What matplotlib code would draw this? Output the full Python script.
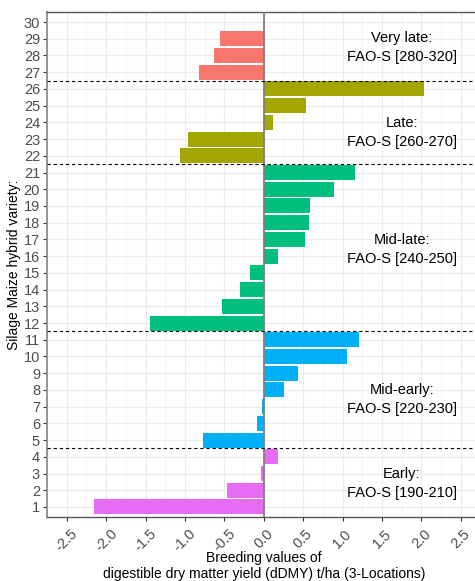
import matplotlib
matplotlib.use("Agg")
import matplotlib.pyplot as plt
from matplotlib.ticker import MultipleLocator, FixedLocator

plt.rcParams['font.family'] = ['Liberation Sans', 'DejaVu Sans']

varieties = list(range(1, 31))
values = [-2.16, -0.47, -0.04, 0.18, -0.77, -0.09, -0.02, 0.26, 0.44, 1.05,
          1.21, -1.445, -0.525, -0.296, -0.18, 0.18, 0.525, 0.575, 0.59, 0.885,
          1.16, -1.06, -0.96, 0.12, 0.54, 2.03, -0.82, -0.63, -0.56, 0.0]
groups = ["Early"] * 4 + ["Mid-early"] * 7 + ["Mid-late"] * 10 + ["Late"] * 5 + ["Very late"] * 4
group_colors = {"Early": "#E76BF3", "Mid-early": "#00B0F6", "Mid-late": "#00BF7D",
                "Late": "#A3A500", "Very late": "#F8766D"}
boundaries = [4.5, 11.5, 21.5, 26.5]
labels = ["Very late:\nFAO-S [280-320]", "Late:\nFAO-S [260-270]", "Mid-late:\nFAO-S [240-250]",
          "Mid-early:\nFAO-S [220-230]", "Early:\nFAO-S [190-210]"]
label_y = [28.45, 23.4, 16.4, 7.4, 2.4]
label_x = 1.75
xticks = [-2.5, -2.0, -1.5, -1.0, -0.5, 0.0, 0.5, 1.0, 1.5, 2.0, 2.5]

W, H = 475, 581
fig = plt.figure(figsize=(W / 100, H / 100), dpi=100)
ax = fig.add_axes([47 / W, 64 / H, (480.5 - 47) / W, (517 - 12) / H])

ax.set_xlim(-2.75, 2.75)
ax.set_ylim(0.4, 30.6)

ax.xaxis.set_major_locator(FixedLocator(xticks))
ax.xaxis.set_minor_locator(MultipleLocator(0.25))
ax.yaxis.set_major_locator(FixedLocator(varieties))
ax.grid(which='major', color='#EBEBEB', linewidth=0.9, zorder=0)
ax.grid(which='minor', axis='x', color='#F2F2F2', linewidth=0.5, zorder=0)
ax.set_axisbelow(True)

cols = [group_colors[g] for g in groups]
ax.barh(varieties, values, height=0.9, color=cols, edgecolor='none', zorder=2)

ax.axvline(0, color='#7F7F7F', linewidth=1.3, zorder=3)
for b in boundaries:
    ax.axhline(b, color='black', linestyle=(0, (3, 2.5)), linewidth=0.8, zorder=4)

for t, yy in zip(labels, label_y):
    ax.text(label_x, yy, t, ha='center', va='center', fontsize=10.5, color='black',
            linespacing=1.45, zorder=5)

ax.set_yticks(varieties)
ax.set_yticklabels([str(v) for v in varieties])
ax.set_xticks(xticks)
ax.set_xticklabels([f"{v:.1f}" for v in xticks], rotation=45, ha='center', va='top')

ax.tick_params(axis='both', which='major', length=3, width=0.8, color='#333333',
               labelsize=10.5, labelcolor='#4D4D4D', pad=2)
ax.tick_params(axis='x', which='major', pad=4)
ax.tick_params(which='minor', length=0)

for s in ['top', 'bottom', 'right']:
    ax.spines[s].set_color('#555555')
    ax.spines[s].set_linewidth(1.0)
ax.spines['left'].set_color('#8C8C8C')
ax.spines['left'].set_linewidth(1.3)

fig.text(263.7 / W, 1 - 566 / H,
         "Breeding values of\ndigestible dry matter yield (dDMY) t/ha (3-Locations)",
         ha='center', va='center', fontsize=10, color='black', linespacing=1.1)
ax.set_ylabel("Silage Maize hybrid variety:", fontsize=10, color='black', labelpad=2)

fig.savefig("out.png", dpi=100)
